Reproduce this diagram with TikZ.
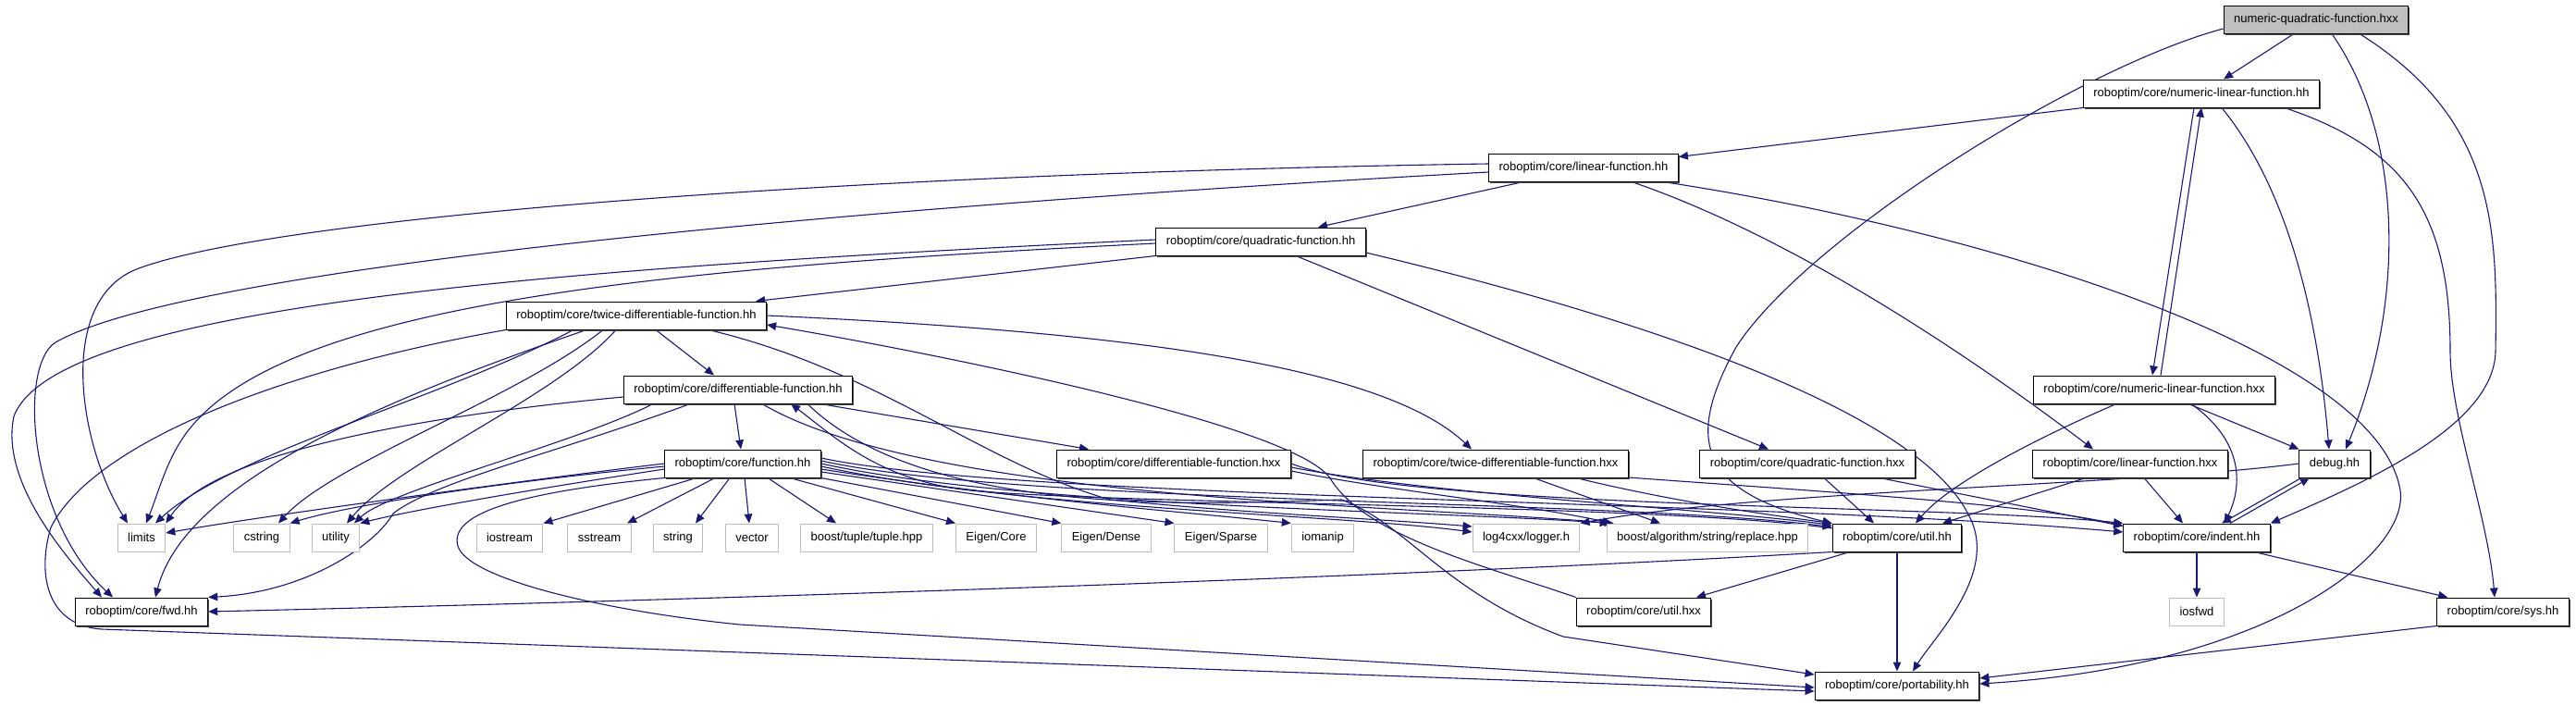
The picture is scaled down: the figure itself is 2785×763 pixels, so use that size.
\documentclass[tikz,border=0pt]{standalone}
\usepackage{fontspec}
\setmainfont{Liberation Sans}
\usetikzlibrary{arrows.meta,shadows,backgrounds}

\definecolor{edgeblue}{HTML}{191970}
\definecolor{sysgray}{HTML}{BFBFBF}
\newcommand{\hdrfont}{\fontsize{13pt}{15pt}\selectfont}

\begin{document}
\begin{tikzpicture}[
  x=1pt, y=-1pt,
  header/.style={draw=black,fill=white,line width=1pt,font=\hdrfont,
                 minimum height=30pt,inner xsep=11pt,inner ysep=0pt,
                 general shadow={fill=black!70,shadow xshift=1.5pt,shadow yshift=-1.5pt}},
  rootheader/.style={header,fill=sysgray},
  sysheader/.style={draw=sysgray,fill=white,line width=1pt,font=\hdrfont,
                 minimum height=30pt,inner xsep=11pt,inner ysep=0pt},
  incl/.style={draw=edgeblue,line width=1.1pt,-{Triangle[length=10pt,width=8.5pt]}}
]
\useasboundingbox (0,0) rectangle (2785,763);

% project headers
\node[rootheader] (nqfhxx) at (2504,21)  {numeric-quadratic-function.hxx};
\node[header] (nlfhh)  at (2380,101) {roboptim/core/numeric-linear-function.hh};
\node[header] (lfhh)   at (1712,181) {roboptim/core/linear-function.hh};
\node[header] (qfhh)   at (1363,261) {roboptim/core/quadratic-function.hh};
\node[header] (tdfhh)  at (688,341)  {roboptim/core/twice-differentiable-function.hh};
\node[header] (dfhh)   at (798,421)  {roboptim/core/differentiable-function.hh};
\node[header] (nlfhxx) at (2329,421) {roboptim/core/numeric-linear-function.hxx};
\node[header] (fhh)    at (803,501)  {roboptim/core/function.hh};
\node[header] (dfhxx)  at (1269,501) {roboptim/core/differentiable-function.hxx};
\node[header] (tdfhxx) at (1617,501) {roboptim/core/twice-differentiable-function.hxx};
\node[header] (qfhxx)  at (1954,501) {roboptim/core/quadratic-function.hxx};
\node[header] (lfhxx)  at (2303,501) {roboptim/core/linear-function.hxx};
\node[header] (debug)  at (2524,501) {debug.hh};
\node[header] (utilhh) at (2051,581) {roboptim/core/util.hh};
\node[header] (indent) at (2375,581) {roboptim/core/indent.hh};
\node[header] (fwd)    at (153,661)  {roboptim/core/fwd.hh};
\node[header] (utilhxx) at (1777,661) {roboptim/core/util.hxx};
\node[header] (sys)    at (2706,661) {roboptim/core/sys.hh};
\node[header] (port)   at (2051,741) {roboptim/core/portability.hh};

% system headers
\node[sysheader] (limits)  at (153,581)  {limits};
\node[sysheader] (cstring) at (283,581)  {cstring};
\node[sysheader] (utility) at (363,581)  {utility};
\node[sysheader] (iostream) at (551,581) {iostream};
\node[sysheader] (sstream) at (648,581)  {sstream};
\node[sysheader] (string)  at (733,581)  {string};
\node[sysheader] (vector)  at (813,581)  {vector};
\node[sysheader] (tuple)   at (937,581)  {boost/tuple/tuple.hpp};
\node[sysheader] (ecore)   at (1077,581) {Eigen/Core};
\node[sysheader] (edense)  at (1196,581) {Eigen/Dense};
\node[sysheader] (esparse) at (1320,581) {Eigen/Sparse};
\node[sysheader] (iomanip) at (1430,581) {iomanip};
\node[sysheader] (logger)  at (1650,581) {log4cxx/logger.h};
\node[sysheader] (replace) at (1846,581) {boost/algorithm/string/replace.hpp};
\node[sysheader] (iosfwd)  at (2375,661) {iosfwd};

\begin{pgfonlayer}{background}
% top files
\draw[incl] (nqfhxx) -- (nlfhh);
\draw[incl] ([yshift=-10pt]nqfhxx.west) .. controls (2250,72) and (1955,255) .. (1877,375)
  .. controls (1825,470) and (1830,530) .. (utilhh.north west);
\draw[incl] ([xshift=17pt]nqfhxx.south) .. controls (2600,150) and (2600,330) .. ([xshift=12pt]debug.north);
\draw[incl] ([xshift=47pt]nqfhxx.south) .. controls (2700,130) and (2700,250) .. (2698,380)
  .. controls (2696,460) and (2560,520) .. (indent.north east);
\draw[incl] (nlfhh.south west) -- ([yshift=-4pt]lfhh.north east);
\draw[incl] ([xshift=-8pt]nlfhh.south) -- ([xshift=-2pt]nlfhxx.north);
\draw[incl] ([xshift=7pt]nlfhxx.north) -- (nlfhh.south);
\draw[incl] ([xshift=22pt]nlfhh.south) .. controls (2470,200) and (2505,330) .. ([xshift=-6pt]debug.north);
\draw[incl] ([xshift=90pt]nlfhh.south) .. controls (2600,160) and (2649,230) .. (2649,380)
  .. controls (2649,450) and (2690,560) .. ([xshift=-9pt]sys.north);
\draw[incl] ([xshift=-41pt]nlfhxx.south) .. controls (2210,470) and (2110,520) .. ([xshift=20pt]utilhh.north);
\draw[incl] ([xshift=37pt]nlfhxx.south) -- (debug.north west);
\draw[incl] ([xshift=40pt]nlfhxx.south) .. controls (2430,480) and (2422,530) .. ([xshift=30pt]indent.north);
\draw[incl] ([xshift=-36pt]debug.south) -- ([xshift=27pt]indent.north);
\draw[incl] ([xshift=36pt]indent.north) -- ([xshift=-27pt]debug.south);
\draw[incl] (debug.west) .. controls (2300,525) and (1900,530) .. (logger.north east);

% linear / quadratic
\draw[incl] ([xshift=-65pt]lfhh.south) -- ([xshift=62pt]qfhh.north);
\draw[incl] ([xshift=52pt]lfhh.south) .. controls (1950,260) and (2150,400) .. ([xshift=-40pt]lfhxx.north);
\draw[incl] ([xshift=86pt]lfhh.south) .. controls (2150,250) and (2570,380) .. (2595,530)
  .. controls (2605,600) and (2450,720) .. ([yshift=2pt]port.east);
\draw[incl] ([yshift=4pt]lfhh.west) .. controls (900,188) and (300,235) .. (150,290)
  .. controls (60,323) and (85,480) .. ([xshift=-15pt]limits.north);
\draw[incl] ([yshift=-5pt]lfhh.west) .. controls (900,225) and (200,290) .. (60,370)
  .. controls (20,395) and (30,560) .. ([xshift=-31pt]fwd.north);
\draw[incl] ([xshift=38pt]qfhh.south) -- ([xshift=-42pt]qfhxx.north);
\draw[incl] ([yshift=-12pt]qfhh.east) .. controls (1800,350) and (2080,450) .. (2130,560)
  .. controls (2160,620) and (2090,690) .. ([xshift=17pt]port.north);
\draw[incl] (qfhh.south west) -- ([xshift=-12pt]tdfhh.north east);
\draw[incl] ([yshift=2pt]qfhh.west) .. controls (600,290) and (60,330) .. (15,450)
  .. controls (0,520) and (70,600) .. ([xshift=-43pt]fwd.north);
\draw[incl] ([yshift=-2pt]qfhh.west) .. controls (700,290) and (300,330) .. (200,470)
  .. controls (180,498) and (172,530) .. ([xshift=5pt]limits.north);

% twice differentiable
\draw[incl] ([xshift=21pt]tdfhh.south) -- ([xshift=-26pt]dfhh.north);
\draw[incl] (tdfhh.east) .. controls (1250,360) and (1500,400) .. ([xshift=-26pt]tdfhxx.north);
\draw[incl] ([xshift=-68pt]tdfhh.south) .. controls (480,430) and (250,490) .. ([xshift=15pt]limits.north);
\draw[incl] ([xshift=-36pt]tdfhh.south) .. controls (560,430) and (360,500) .. ([xshift=18pt]cstring.north);
\draw[incl] ([xshift=-22pt]tdfhh.south) .. controls (600,430) and (430,500) .. ([xshift=12pt]utility.north);
\draw[incl] ([xshift=-54pt]tdfhh.south) .. controls (420,430) and (200,520) .. ([xshift=15pt]fwd.north);
\draw[incl] (tdfhh.south west) .. controls (300,400) and (100,480) .. (55,570)
  .. controls (40,620) and (50,676) .. (110,680) -- ([yshift=-6pt]port.west);
\draw[incl] ([xshift=78pt]tdfhh.south) .. controls (950,400) and (1060,500) .. (1200,540)
  .. controls (1350,555) and (1480,560) .. ([yshift=12pt]logger.west);

% differentiable
\draw[incl] ([xshift=-4pt]dfhh.south) -- ([xshift=-2pt]fhh.north);
\draw[incl] ([xshift=89pt]dfhh.south) -- ([xshift=-92pt]dfhxx.north);
\draw[incl] ([yshift=-8pt]dfhh.west) .. controls (450,450) and (230,490) .. (limits.north east);
\draw[incl] ([xshift=-92pt]dfhh.south) .. controls (620,480) and (420,530) .. ([xshift=20pt]utility.north);
\draw[incl] ([xshift=-52pt]dfhh.south) .. controls (600,490) and (470,520) .. (425,555)
  .. controls (405,590) and (330,640) .. (fwd.north east);
\draw[incl] ([xshift=26pt]dfhh.south) .. controls (1000,540) and (1500,545) .. ([xshift=8pt]replace.north west);
\draw[incl] ([xshift=75pt]dfhh.south) .. controls (1000,560) and (1300,545) .. (1450,540)
  .. controls (1520,565) and (1560,640) .. (1690,688) -- ([yshift=12pt]port.west);

% function
\draw[incl] (fhh.west) .. controls (600,515) and (300,555) .. ([yshift=5pt]limits.east);
\draw[incl] ([yshift=-3pt]fhh.west) .. controls (550,520) and (380,545) .. (cstring.north east);
\draw[incl] ([yshift=-6pt]fhh.west) .. controls (600,525) and (450,550) .. (utility.north east);
\draw[incl] ([xshift=-50pt]fhh.south) -- (iostream.north east);
\draw[incl] ([xshift=-30pt]fhh.south) -- ([xshift=30pt]sstream.north);
\draw[incl] ([xshift=-14pt]fhh.south) -- ([xshift=19pt]string.north);
\draw[incl] ([xshift=2pt]fhh.south) -- ([xshift=-3pt]vector.north);
\draw[incl] ([xshift=27pt]fhh.south) -- ([xshift=-33pt]tuple.north);
\draw[incl] ([xshift=51pt]fhh.south) -- (ecore.north west);
\draw[incl] (fhh.south east) -- (edense.north west);
\draw[incl] ([yshift=-9pt]fhh.east) -- (esparse.north west);
\draw[incl] ([yshift=-6pt]fhh.east) .. controls (1100,540) and (1300,555) .. (iomanip.north west);
\draw[incl] ([yshift=-3pt]fhh.east) .. controls (1100,550) and (1450,556) .. ([yshift=6pt]logger.west);
\draw[incl] (fhh.east) .. controls (1100,548) and (1550,552) .. ([xshift=3pt]replace.north west);
\draw[incl] ([yshift=3pt]fhh.east) .. controls (1100,545) and (1750,540) .. ([yshift=-4pt]utilhh.north west);
\draw[incl] ([yshift=6pt]fhh.east) .. controls (1100,540) and (1900,540) .. ([yshift=6pt]indent.west);
\draw[incl] (fhh.south west) .. controls (560,532) and (485,555) .. (495,590)
  .. controls (505,625) and (650,660) .. (800,675) -- ([yshift=-2pt]port.west);

% row of .hxx files
\draw[incl] ([yshift=-8pt]dfhxx.east) .. controls (1500,530) and (1650,545) .. ([xshift=6pt]replace.north west);
\draw[incl] ([yshift=-4pt]dfhxx.east) .. controls (1550,535) and (1850,550) .. ([yshift=-2pt]utilhh.north west);
\draw[incl] (dfhxx.east) .. controls (1520,550) and (2100,545) .. (indent.north west);
\draw[incl] ([xshift=41pt]tdfhxx.south) -- ([xshift=-51pt]replace.north);
\draw[incl] ([xshift=87pt]tdfhxx.south) .. controls (1800,540) and (1900,555) .. (utilhh.north west);
\draw[incl] ([yshift=-15pt]tdfhxx.east) .. controls (1950,530) and (2200,545) .. ([yshift=-3pt]indent.north west);
\draw[incl] ([xshift=18pt]qfhxx.south) -- ([xshift=-25pt]utilhh.north);
\draw[incl] ([xshift=78pt]qfhxx.south) -- ([yshift=-3pt]indent.north west);
\draw[incl] ([xshift=-48pt]lfhxx.south) -- ([xshift=49pt]utilhh.north);
\draw[incl] ([xshift=15pt]lfhxx.south) -- ([xshift=-15pt]indent.north);

% util, indent, sys
\draw[incl] ([yshift=10pt]utilhh.west) .. controls (1800,545) and (1200,545) .. (1050,530)
  .. controls (950,520) and (900,470) .. ([xshift=57pt]dfhh.south);
\draw[incl] (utilhxx.north west) .. controls (1600,610) and (1480,580) .. (1440,520)
  .. controls (1410,460) and (1000,380) .. ([yshift=-10pt]tdfhh.east);
\draw[incl] (utilhh.south) -- (port.north);
\draw[incl] ([xshift=-51pt]utilhh.south) -- ([xshift=57pt]utilhxx.north);
\draw[incl] (utilhh.south west) .. controls (1500,625) and (700,650) .. (fwd.east);
\draw[incl] (indent.south) -- (iosfwd.north);
\draw[incl] ([xshift=62pt]indent.south) -- ([xshift=12pt]sys.north west);
\draw[incl] (sys.south west) -- ([yshift=8pt]port.east);
\end{pgfonlayer}
\end{tikzpicture}
\end{document}
